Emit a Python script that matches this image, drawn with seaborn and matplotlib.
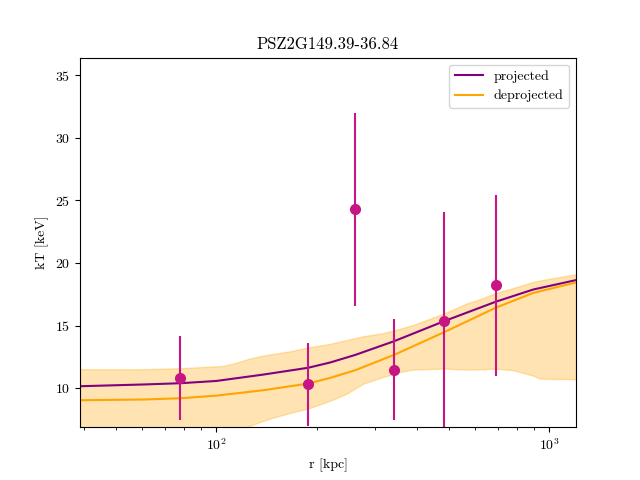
import matplotlib
matplotlib.use("Agg")
import matplotlib.pyplot as plt
import seaborn as sns
import pandas as pd

# ---- data ----
r_pts = [77.8, 188.4, 261.5, 341.7, 482.9, 690.0]
kT_pts = [10.85, 10.3, 24.27, 11.49, 15.33, 18.2]
kT_err = [3.35, 3.35, 7.7, 4.05, 8.7, 7.25]

r_curve = [38.97, 60.4, 78.0, 100.0, 138.4, 188.4, 219.5, 261.5, 341.7, 483.0, 690.0, 895.0, 1203.0]
kT_proj = [10.16, 10.3, 10.4, 10.58, 11.09, 11.63, 12.05, 12.66, 13.75, 15.35, 16.9, 17.88, 18.63]
kT_deproj = [9.04, 9.1, 9.2, 9.41, 9.84, 10.37, 10.82, 11.44, 12.66, 14.47, 16.42, 17.61, 18.44]

r_band = [38.97, 60.4, 78.0, 105.0, 115.2, 126.0, 135.0, 145.0, 155.0, 166.5, 188.5, 214.5,
          224.5, 246.4, 276.3, 317.3, 356.2, 390.5, 483.0, 565.0, 619.0, 690.0, 780.0,
          895.0, 938.0, 982.0, 1203.0]
band_hi = [11.52, 11.52, 11.6, 11.78, 12.05, 12.37, 12.55, 12.7, 12.82, 12.95, 13.25, 13.5,
           13.6, 13.85, 14.15, 14.4, 14.75, 15.05, 15.97, 16.77, 17.1, 17.6, 18.0,
           18.49, 18.6, 18.7, 19.1]
band_lo = [5.4, 5.7, 5.9, 6.3, 6.5, 7.0, 7.3, 7.58, 7.8, 8.03, 8.38, 8.9,
           9.1, 9.57, 10.37, 10.9, 11.3, 11.49, 11.57, 11.49, 11.5, 11.57, 11.44,
           11.0, 10.77, 10.75, 10.72]

title = "PSZ2G149.39-36.84"

# ---- style ----
plt.rcParams["font.family"] = "serif"
plt.rcParams["font.serif"] = ["cmr10", "DejaVu Serif"]
plt.rcParams["mathtext.fontset"] = "cm"
plt.rcParams["axes.formatter.use_mathtext"] = True

fig, ax = plt.subplots(figsize=(6.4, 4.8), dpi=100)

ax.fill_between(r_band, band_lo, band_hi, color="orange", alpha=0.3, linewidth=1)

df = pd.DataFrame({"r": r_curve + r_curve,
                   "kT": kT_proj + kT_deproj,
                   "kind": ["projected"] * len(r_curve) + ["deprojected"] * len(r_curve)})
sns.lineplot(data=df, x="r", y="kT", hue="kind",
             palette={"projected": "purple", "deprojected": "orange"},
             ax=ax, linewidth=1.5)

ax.errorbar(r_pts, kT_pts, yerr=kT_err, fmt="o", color="mediumvioletred",
            markersize=7, elinewidth=1.5, capsize=0)

ax.set_xscale("log")
ax.set_xlim(38.97, 1203)
ax.set_ylim(6.89, 36.39)
ax.set_xlabel("r [kpc]")
ax.set_ylabel("kT [keV]")
ax.set_title(title)
ax.legend(loc="upper right", title=None)

fig.savefig("out.png", dpi=100)
